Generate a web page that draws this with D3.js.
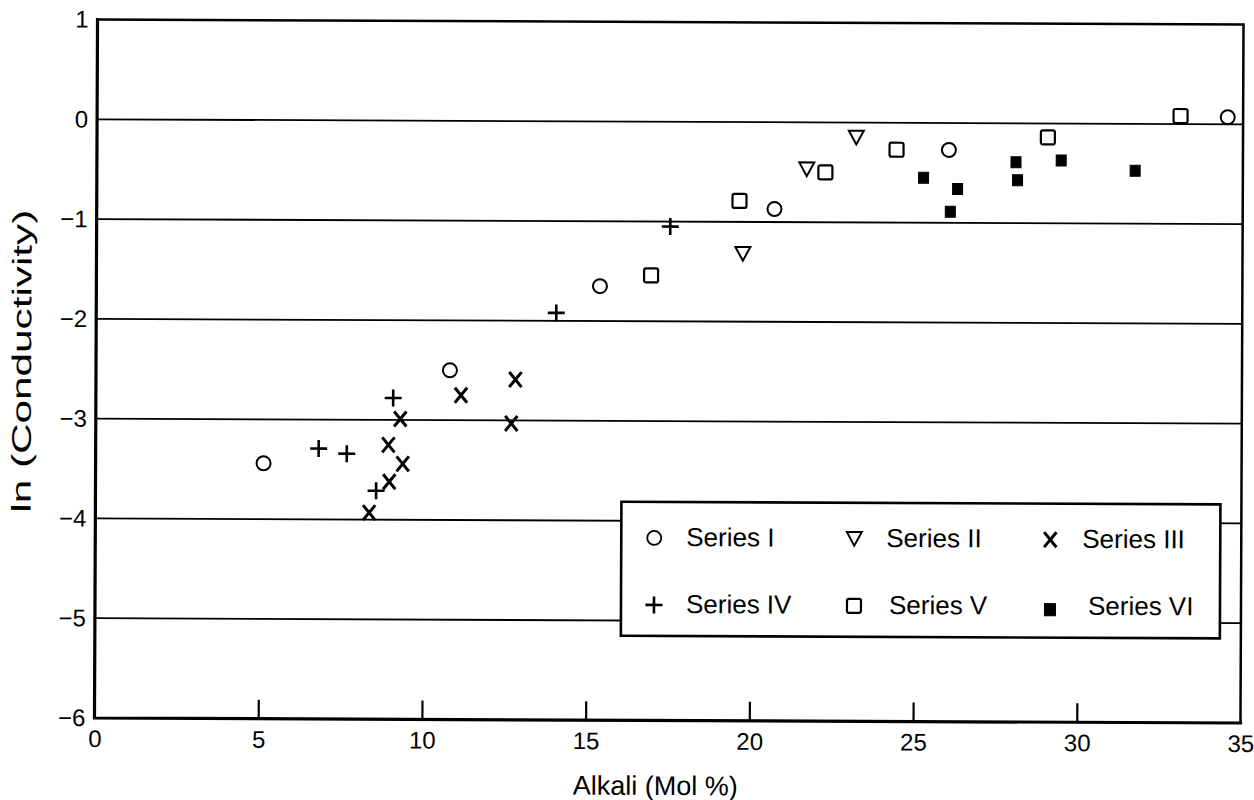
<!DOCTYPE html>
<html>
<head>
<meta charset="utf-8">
<script src="https://cdn.jsdelivr.net/npm/d3@7"></script>
<style>
  html, body { margin: 0; padding: 0; background: #fff; }
  svg text { font-family: "Liberation Sans", Arial, Helvetica, sans-serif; fill: #000; }
</style>
</head>
<body>
<svg id="chart" width="1254" height="800"></svg>
<script>
// Data: [alkali mol %, ln(conductivity)]
const seriesNames = ["Series I", "Series II", "Series III", "Series IV", "Series V", "Series VI"];
const seriesI   = [[5.13, -3.44], [10.81, -2.50], [15.38, -1.65], [20.70, -0.87], [26.02, -0.27], [34.53, 0.07]];
const seriesII  = [[19.74, -1.32], [21.68, -0.47], [23.19, -0.15]];
const seriesIII = [[8.36, -3.93], [8.97, -3.62], [8.94, -3.25], [9.38, -3.44], [9.30, -2.99], [11.15, -2.75], [12.69, -3.03], [12.81, -2.59]];
const seriesIV  = [[6.81, -3.29], [7.67, -3.34], [8.57, -3.71], [9.08, -2.78], [14.05, -1.92], [17.52, -1.05]];
const seriesV   = [[16.94, -1.54], [19.63, -0.79], [22.25, -0.50], [24.42, -0.27], [29.04, -0.14], [33.09, 0.08]];
const seriesVI  = [[25.25, -0.55], [26.07, -0.89], [26.29, -0.66], [28.07, -0.39], [28.12, -0.57], [29.45, -0.37], [31.71, -0.47]];

const xTicks = [0, 5, 10, 15, 20, 25, 30, 35];
const yTicks = [1, 0, -1, -2, -3, -4, -5, -6];
const xTitle = "Alkali (Mol %)";
const yTitle = "ln (Conductivity)";

// Marker shapes as custom d3.symbol types (size = nominal width in px)
const shapes = {
  circle: { draw(c, s) { const r = s / 2; c.moveTo(r, 0); c.arc(0, 0, r, 0, 2 * Math.PI); } },
  triangleDown: { draw(c, s) { const w = s / 2, h = s * 0.46; c.moveTo(-w, -h); c.lineTo(w, -h); c.lineTo(0, h); c.closePath(); } },
  times: { draw(c, s) { const w = s * 0.41, h = s / 2; c.moveTo(-w, -h); c.lineTo(w, h); c.moveTo(w, -h); c.lineTo(-w, h); } },
  plus: { draw(c, s) { const h = s / 2; c.moveTo(-h, 0); c.lineTo(h, 0); c.moveTo(0, -h); c.lineTo(0, h); } },
  square: { draw(c, s) {
    const h = s / 2, r = 2;
    c.moveTo(-h + r, -h);
    c.arcTo(h, -h, h, h, r); c.arcTo(h, h, -h, h, r);
    c.arcTo(-h, h, -h, -h, r); c.arcTo(-h, -h, h, -h, r);
    c.closePath();
  } },
  block: { draw(c, s) { const w = s / 2, h = s * 0.55; c.moveTo(-w, -h); c.lineTo(w, -h); c.lineTo(w, h); c.lineTo(-w, h); c.closePath(); } }
};

const series = [
  { name: seriesNames[0], data: seriesI,   shape: shapes.circle,       size: 14, fill: "none", sw: 2 },
  { name: seriesNames[1], data: seriesII,  shape: shapes.triangleDown, size: 15, fill: "none", sw: 2 },
  { name: seriesNames[2], data: seriesIII, shape: shapes.times,        size: 15, fill: "none", sw: 3 },
  { name: seriesNames[3], data: seriesIV,  shape: shapes.plus,         size: 17, fill: "none", sw: 2.6 },
  { name: seriesNames[4], data: seriesV,   shape: shapes.square,       size: 14, fill: "none", sw: 2.2 },
  { name: seriesNames[5], data: seriesVI,  shape: shapes.block,        size: 10, fill: "#000", sw: 1 }
];

const frame = { left: 96, right: 1242, top: 22, bottom: 720.5 };
const cx = (frame.left + frame.right) / 2, cy = (frame.top + frame.bottom) / 2;

const svg = d3.select("#chart");
svg.append("rect").attr("width", 1254).attr("height", 800).attr("fill", "#fff");

// whole figure sits with a slight clockwise tilt
const g = svg.append("g").attr("transform", `rotate(0.25 ${cx} ${cy})`);

const x = d3.scaleLinear().domain([0, 35]).range([frame.left, frame.right]);
const y = d3.scaleLinear().domain([-6, 1]).range([frame.bottom, frame.top]);

// horizontal grid lines
g.append("g")
  .selectAll("line")
  .data(yTicks.filter(d => d > -6 && d < 1))
  .join("line")
  .attr("x1", x(0)).attr("x2", x(35))
  .attr("y1", d => y(d)).attr("y2", d => y(d))
  .attr("stroke", "#000").attr("stroke-width", 1.8);

// bottom axis with inward ticks
const xAxis = d3.axisBottom(x)
  .tickValues(xTicks)
  .tickSizeInner(0).tickSizeOuter(0).tickPadding(12)
  .tickFormat(d3.format("d"));
const gx = g.append("g").attr("transform", `translate(0,${frame.bottom})`).call(xAxis);
gx.select(".domain").remove();
gx.selectAll(".tick text").attr("font-size", 24).attr("fill", "#000").attr("font-family", null);
gx.selectAll(".tick").filter(d => d > 0 && d < 35)
  .append("line").attr("y1", 0).attr("y2", -19)
  .attr("stroke", "#000").attr("stroke-width", 2.2);

// left axis labels
const yAxis = d3.axisLeft(y)
  .tickValues(yTicks)
  .tickSize(0).tickPadding(9)
  .tickFormat(d => d < 0 ? "\u2212" + Math.abs(d) : String(d));
const gy = g.append("g").attr("transform", `translate(${frame.left},0)`).call(yAxis);
gy.select(".domain").remove();
gy.selectAll(".tick text").attr("font-size", 24).attr("fill", "#000").attr("font-family", null);

// frame
g.append("path")
  .attr("d", `M${x(0)},${y(1)}H${x(35)}V${y(-6)}`)
  .attr("fill", "none").attr("stroke", "#000").attr("stroke-width", 2.5);
g.append("path")
  .attr("d", `M${x(0)},${y(1)}V${y(-6)}H${x(35)}`)
  .attr("fill", "none").attr("stroke", "#000").attr("stroke-width", 3.2)
  .attr("stroke-linecap", "square");

// data points
const sym = d3.symbol();
series.forEach(s => {
  g.append("g")
    .selectAll("path")
    .data(s.data)
    .join("path")
    .attr("transform", d => `translate(${x(d[0])},${y(d[1])})`)
    .attr("d", sym.type(s.shape).size(s.size)())
    .attr("fill", s.fill)
    .attr("stroke", "#000")
    .attr("stroke-width", s.sw)
    .attr("stroke-linejoin", "miter");
});

// legend
const legend = { left: 622, top: 502, right: 1221, bottom: 636 };
const lg = g.append("g");
lg.append("rect")
  .attr("x", legend.left).attr("y", legend.top)
  .attr("width", legend.right - legend.left).attr("height", legend.bottom - legend.top)
  .attr("fill", "#fff").attr("stroke", "#000").attr("stroke-width", 2.6);

const colX = [655, 855, 1051];
const rowY = [538, 605];
const textGap = [[32, 32, 32], [32, 35, 38]];
series.forEach((s, i) => {
  const r = Math.floor(i / 3), c = i % 3;
  const item = lg.append("g").attr("transform", `translate(${colX[c]},${rowY[r]})`);
  item.append("path")
    .attr("d", sym.type(s.shape).size(s.size + (i === 5 ? 1 : 0))())
    .attr("transform", i === 5 ? "translate(0,3)" : null)
    .attr("fill", s.fill).attr("stroke", "#000")
    .attr("stroke-width", i === 0 ? 1.8 : s.sw);
  item.append("text")
    .attr("x", textGap[r][c]).attr("y", 8)
    .attr("font-size", 26)
    .text(s.name);
});

// axis titles
g.append("text")
  .attr("x", 657).attr("y", 795)
  .attr("text-anchor", "middle")
  .attr("font-size", 27)
  .text(xTitle);

g.append("text")
  .attr("transform", `translate(31,364) rotate(-90)`)
  .attr("text-anchor", "middle")
  .attr("font-size", 27)
  .attr("textLength", 303)
  .attr("lengthAdjust", "spacingAndGlyphs")
  .text(yTitle);
</script>
</body>
</html>
